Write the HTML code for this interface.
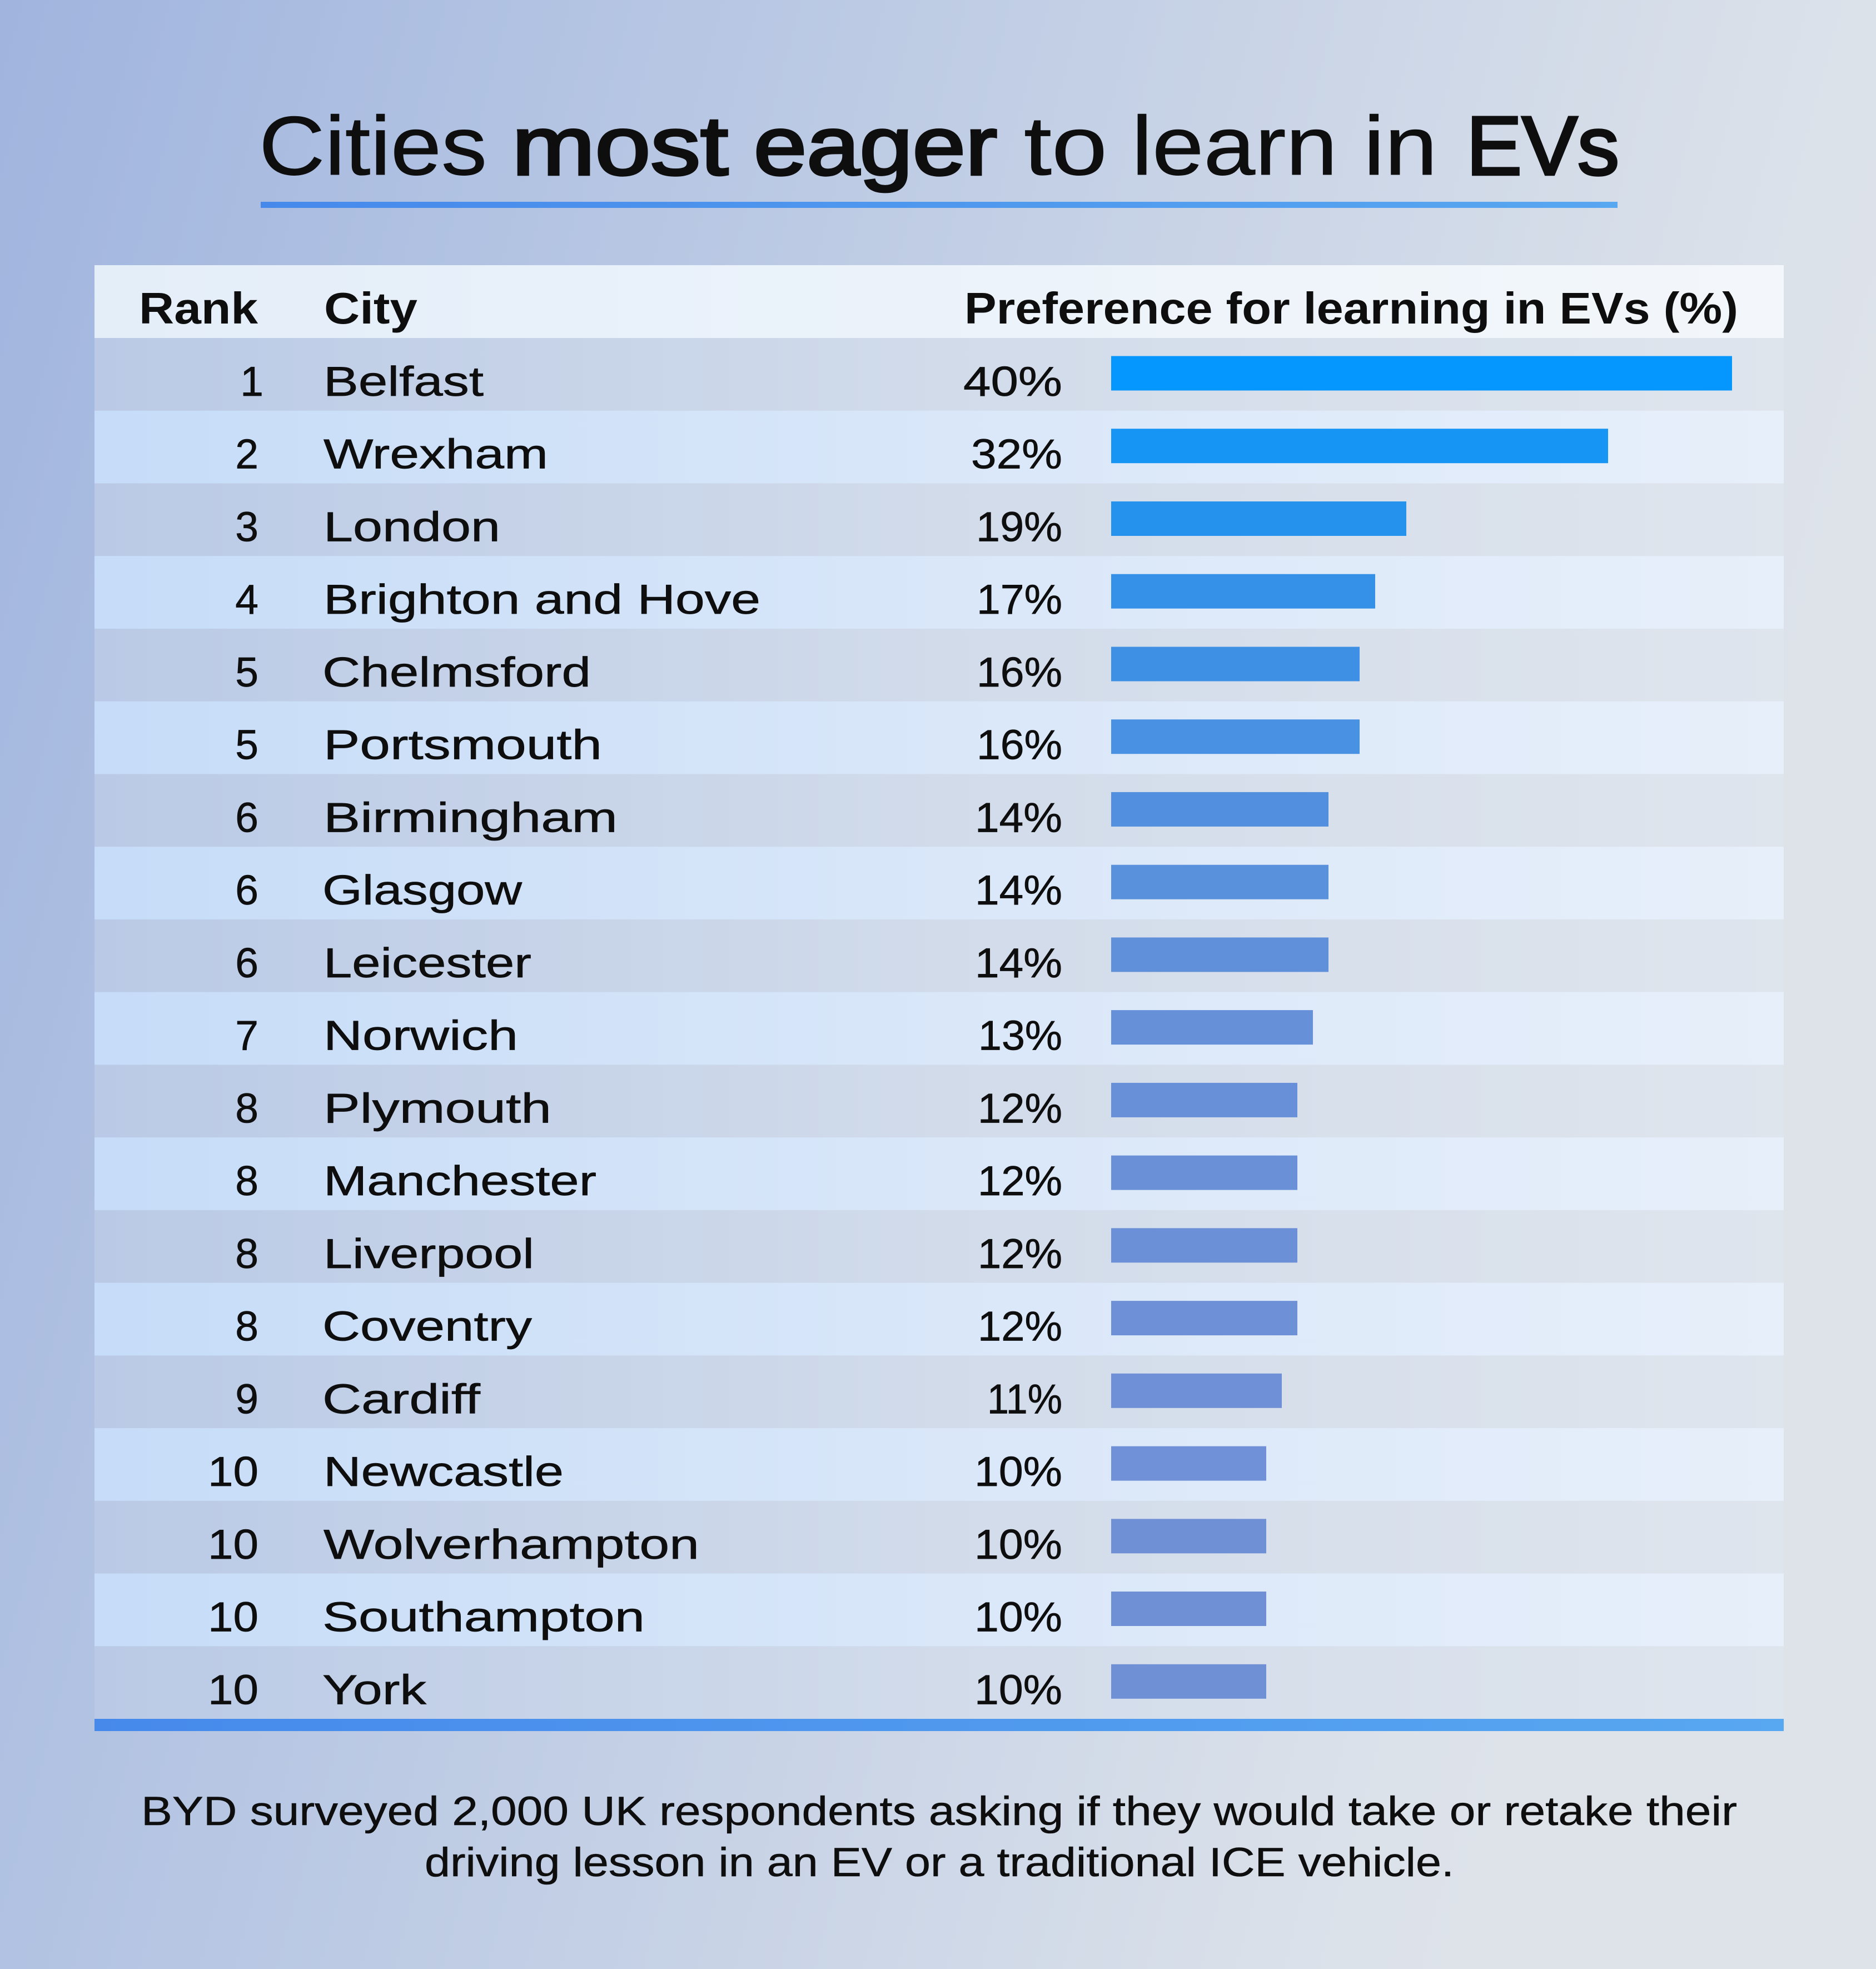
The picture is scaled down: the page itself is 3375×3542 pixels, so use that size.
<!DOCTYPE html>
<html>
<head>
<meta charset="utf-8">
<style>
html,body{margin:0;padding:0;background:#c0cde6;}
svg{display:block;}
text{font-family:"Liberation Sans", Arial, sans-serif;fill:#0e0e0e;}
.t{font-size:150px;}
.h{font-size:80px;font-weight:bold;}
.r{font-size:75px;stroke:#0e0e0e;stroke-width:0.7px;}
.f{font-size:73px;stroke:#0e0e0e;stroke-width:0.6px;}
</style>
</head>
<body>
<svg width="3375" height="3542" viewBox="0 0 3375 3542" xmlns="http://www.w3.org/2000/svg">
<defs>
<linearGradient id="bg" gradientUnits="userSpaceOnUse" x1="0" y1="0" x2="3375" y2="900">
<stop offset="0" stop-color="#a0b4de"/>
<stop offset="0.26" stop-color="#b1c2e2"/>
<stop offset="0.93" stop-color="#dce2ea"/>
<stop offset="1" stop-color="#dee3ea"/>
</linearGradient>
<linearGradient id="hd" x1="0" y1="0" x2="1" y2="0">
<stop offset="0" stop-color="#e4eef9"/>
<stop offset="1" stop-color="#f3f7fb"/>
</linearGradient>
<linearGradient id="od" x1="0" y1="0" x2="1" y2="0">
<stop offset="0" stop-color="#bacae6"/>
<stop offset="0.5" stop-color="#d1dbea"/>
<stop offset="1" stop-color="#dfe5ed"/>
</linearGradient>
<linearGradient id="ev" x1="0" y1="0" x2="1" y2="0">
<stop offset="0" stop-color="#c6dcf8"/>
<stop offset="0.5" stop-color="#d9e7f9"/>
<stop offset="1" stop-color="#e7effa"/>
</linearGradient>
<linearGradient id="ln" x1="0" y1="0" x2="1" y2="0">
<stop offset="0" stop-color="#4689eb"/>
<stop offset="1" stop-color="#58a7f1"/>
</linearGradient>
</defs>

<rect x="0" y="0" width="3375" height="3542" fill="url(#bg)"/>

<!-- Title -->
<text class="t" x="466" y="314" textLength="410" lengthAdjust="spacingAndGlyphs" style="stroke:#0e0e0e;stroke-width:1px">Cities</text>
<text class="t" x="921" y="314" textLength="389" lengthAdjust="spacingAndGlyphs" style="stroke:#0e0e0e;stroke-width:4.5px">most</text>
<text class="t" x="1356" y="314" textLength="438" lengthAdjust="spacingAndGlyphs" style="stroke:#0e0e0e;stroke-width:4.5px">eager</text>
<text class="t" x="1842" y="314" textLength="150" lengthAdjust="spacingAndGlyphs" style="stroke:#0e0e0e;stroke-width:1px">to</text>
<text class="t" x="2036" y="314" textLength="370" lengthAdjust="spacingAndGlyphs" style="stroke:#0e0e0e;stroke-width:1px">learn</text>
<text class="t" x="2453" y="314" textLength="133" lengthAdjust="spacingAndGlyphs" style="stroke:#0e0e0e;stroke-width:1px">in</text>
<text class="t" x="2638" y="314" textLength="275" lengthAdjust="spacingAndGlyphs" style="stroke:#0e0e0e;stroke-width:4.5px">EVs</text>
<rect x="469" y="363" width="2441" height="11" fill="url(#ln)"/>

<!-- Header -->
<rect x="170" y="477" width="3039" height="131" fill="url(#hd)"/>
<text class="h" x="250" y="582" textLength="214" lengthAdjust="spacingAndGlyphs">Rank</text>
<text class="h" x="583" y="582" textLength="168" lengthAdjust="spacingAndGlyphs">City</text>
<text class="h" x="1735" y="582" textLength="1392" lengthAdjust="spacingAndGlyphs">Preference for learning in EVs (%)</text>

<!-- Rows -->
<rect x="170" y="608" width="3039" height="131" fill="url(#od)"/>
<rect x="170" y="738.74" width="3039" height="131" fill="url(#ev)"/>
<rect x="170" y="869.47" width="3039" height="131" fill="url(#od)"/>
<rect x="170" y="1000.21" width="3039" height="131" fill="url(#ev)"/>
<rect x="170" y="1130.95" width="3039" height="131" fill="url(#od)"/>
<rect x="170" y="1261.68" width="3039" height="131" fill="url(#ev)"/>
<rect x="170" y="1392.42" width="3039" height="131" fill="url(#od)"/>
<rect x="170" y="1523.16" width="3039" height="131" fill="url(#ev)"/>
<rect x="170" y="1653.89" width="3039" height="131" fill="url(#od)"/>
<rect x="170" y="1784.63" width="3039" height="131" fill="url(#ev)"/>
<rect x="170" y="1915.37" width="3039" height="131" fill="url(#od)"/>
<rect x="170" y="2046.11" width="3039" height="131" fill="url(#ev)"/>
<rect x="170" y="2176.84" width="3039" height="131" fill="url(#od)"/>
<rect x="170" y="2307.58" width="3039" height="131" fill="url(#ev)"/>
<rect x="170" y="2438.32" width="3039" height="131" fill="url(#od)"/>
<rect x="170" y="2569.05" width="3039" height="131" fill="url(#ev)"/>
<rect x="170" y="2699.79" width="3039" height="131" fill="url(#od)"/>
<rect x="170" y="2830.53" width="3039" height="131" fill="url(#ev)"/>
<rect x="170" y="2961.26" width="3039" height="131" fill="url(#od)"/>

<rect x="170" y="3092" width="3039" height="22" fill="url(#ln)"/>

<!-- Bars -->
<rect x="1999" y="640.5" width="1117" height="62" fill="#0597fd"/>
<rect x="1999" y="771.2" width="894" height="62" fill="#1795f5"/>
<rect x="1999" y="902.0" width="531" height="62" fill="#2593ee"/>
<rect x="1999" y="1032.7" width="475" height="62" fill="#3591e8"/>
<rect x="1999" y="1163.5" width="447" height="62" fill="#3e90e5"/>
<rect x="1999" y="1294.2" width="447" height="62" fill="#4991e2"/>
<rect x="1999" y="1424.9" width="391" height="62" fill="#5290df"/>
<rect x="1999" y="1555.7" width="391" height="62" fill="#5a91dc"/>
<rect x="1999" y="1686.4" width="391" height="62" fill="#6090da"/>
<rect x="1999" y="1817.1" width="363" height="62" fill="#6690d8"/>
<rect x="1999" y="1947.9" width="335" height="62" fill="#6890d8"/>
<rect x="1999" y="2078.6" width="335" height="62" fill="#6a90d8"/>
<rect x="1999" y="2209.3" width="335" height="62" fill="#6c90d8"/>
<rect x="1999" y="2340.1" width="335" height="62" fill="#6e90d7"/>
<rect x="1999" y="2470.8" width="307" height="62" fill="#6f90d7"/>
<rect x="1999" y="2601.6" width="279" height="62" fill="#7090d7"/>
<rect x="1999" y="2732.3" width="279" height="62" fill="#7090d6"/>
<rect x="1999" y="2863.0" width="279" height="62" fill="#7090d6"/>
<rect x="1999" y="2993.8" width="279" height="62" fill="#7090d6"/>

<!-- Rank numbers -->
<g text-anchor="end">
<text class="r" x="474" y="712">1</text>
<text class="r" x="465" y="842.7">2</text>
<text class="r" x="465" y="973.5">3</text>
<text class="r" x="465" y="1104.2">4</text>
<text class="r" x="465" y="1235.0">5</text>
<text class="r" x="465" y="1365.7">5</text>
<text class="r" x="465" y="1496.4">6</text>
<text class="r" x="465" y="1627.2">6</text>
<text class="r" x="465" y="1757.9">6</text>
<text class="r" x="465" y="1888.6">7</text>
<text class="r" x="465" y="2019.4">8</text>
<text class="r" x="465" y="2150.1">8</text>
<text class="r" x="465" y="2280.8">8</text>
<text class="r" x="465" y="2411.6">8</text>
<text class="r" x="465" y="2542.3">9</text>
</g>
<text class="r" x="374" y="2673.1" textLength="91" lengthAdjust="spacingAndGlyphs">10</text>
<text class="r" x="374" y="2803.8" textLength="91" lengthAdjust="spacingAndGlyphs">10</text>
<text class="r" x="374" y="2934.5" textLength="91" lengthAdjust="spacingAndGlyphs">10</text>
<text class="r" x="374" y="3065.3" textLength="91" lengthAdjust="spacingAndGlyphs">10</text>

<!-- City names -->
<text class="r" x="582" y="712" textLength="288" lengthAdjust="spacingAndGlyphs">Belfast</text>
<text class="r" x="582" y="842.7" textLength="404" lengthAdjust="spacingAndGlyphs">Wrexham</text>
<text class="r" x="582" y="973.5" textLength="318" lengthAdjust="spacingAndGlyphs">London</text>
<text class="r" x="582" y="1104.2" textLength="786" lengthAdjust="spacingAndGlyphs">Brighton and Hove</text>
<text class="r" x="580" y="1235.0" textLength="483" lengthAdjust="spacingAndGlyphs">Chelmsford</text>
<text class="r" x="582" y="1365.7" textLength="501" lengthAdjust="spacingAndGlyphs">Portsmouth</text>
<text class="r" x="582" y="1496.4" textLength="529" lengthAdjust="spacingAndGlyphs">Birmingham</text>
<text class="r" x="580" y="1627.2" textLength="359" lengthAdjust="spacingAndGlyphs">Glasgow</text>
<text class="r" x="582" y="1757.9" textLength="374" lengthAdjust="spacingAndGlyphs">Leicester</text>
<text class="r" x="582" y="1888.6" textLength="350" lengthAdjust="spacingAndGlyphs">Norwich</text>
<text class="r" x="582" y="2019.4" textLength="410" lengthAdjust="spacingAndGlyphs">Plymouth</text>
<text class="r" x="582" y="2150.1" textLength="491" lengthAdjust="spacingAndGlyphs">Manchester</text>
<text class="r" x="582" y="2280.8" textLength="379" lengthAdjust="spacingAndGlyphs">Liverpool</text>
<text class="r" x="580" y="2411.6" textLength="377" lengthAdjust="spacingAndGlyphs">Coventry</text>
<text class="r" x="580" y="2542.3" textLength="284" lengthAdjust="spacingAndGlyphs">Cardiff</text>
<text class="r" x="582" y="2673.1" textLength="432" lengthAdjust="spacingAndGlyphs">Newcastle</text>
<text class="r" x="582" y="2803.8" textLength="676" lengthAdjust="spacingAndGlyphs">Wolverhampton</text>
<text class="r" x="580" y="2934.5" textLength="580" lengthAdjust="spacingAndGlyphs">Southampton</text>
<text class="r" x="580" y="3065.3" textLength="187" lengthAdjust="spacingAndGlyphs">York</text>

<!-- Percentages -->
<text class="r" x="1733" y="712" textLength="178" lengthAdjust="spacingAndGlyphs">40%</text>
<text class="r" x="1747" y="842.7" textLength="164" lengthAdjust="spacingAndGlyphs">32%</text>
<text class="r" x="1756" y="973.5" textLength="155" lengthAdjust="spacingAndGlyphs">19%</text>
<text class="r" x="1757" y="1104.2" textLength="154" lengthAdjust="spacingAndGlyphs">17%</text>
<text class="r" x="1757" y="1235.0" textLength="154" lengthAdjust="spacingAndGlyphs">16%</text>
<text class="r" x="1757" y="1365.7" textLength="154" lengthAdjust="spacingAndGlyphs">16%</text>
<text class="r" x="1754" y="1496.4" textLength="157" lengthAdjust="spacingAndGlyphs">14%</text>
<text class="r" x="1754" y="1627.2" textLength="157" lengthAdjust="spacingAndGlyphs">14%</text>
<text class="r" x="1754" y="1757.9" textLength="157" lengthAdjust="spacingAndGlyphs">14%</text>
<text class="r" x="1760" y="1888.6" textLength="151" lengthAdjust="spacingAndGlyphs">13%</text>
<text class="r" x="1759" y="2019.4" textLength="152" lengthAdjust="spacingAndGlyphs">12%</text>
<text class="r" x="1759" y="2150.1" textLength="152" lengthAdjust="spacingAndGlyphs">12%</text>
<text class="r" x="1759" y="2280.8" textLength="152" lengthAdjust="spacingAndGlyphs">12%</text>
<text class="r" x="1759" y="2411.6" textLength="152" lengthAdjust="spacingAndGlyphs">12%</text>
<text class="r" x="1776" y="2542.3" textLength="135" lengthAdjust="spacingAndGlyphs">11%</text>
<text class="r" x="1753" y="2673.1" textLength="158" lengthAdjust="spacingAndGlyphs">10%</text>
<text class="r" x="1753" y="2803.8" textLength="158" lengthAdjust="spacingAndGlyphs">10%</text>
<text class="r" x="1753" y="2934.5" textLength="158" lengthAdjust="spacingAndGlyphs">10%</text>
<text class="r" x="1753" y="3065.3" textLength="158" lengthAdjust="spacingAndGlyphs">10%</text>

<!-- Footnote -->
<text class="f" x="254" y="3283" textLength="2871" lengthAdjust="spacingAndGlyphs">BYD surveyed 2,000 UK respondents asking if they would take or retake their</text>
<text class="f" x="764" y="3375" textLength="1852" lengthAdjust="spacingAndGlyphs">driving lesson in an EV or a traditional ICE vehicle.</text>
</svg>
</body>
</html>
